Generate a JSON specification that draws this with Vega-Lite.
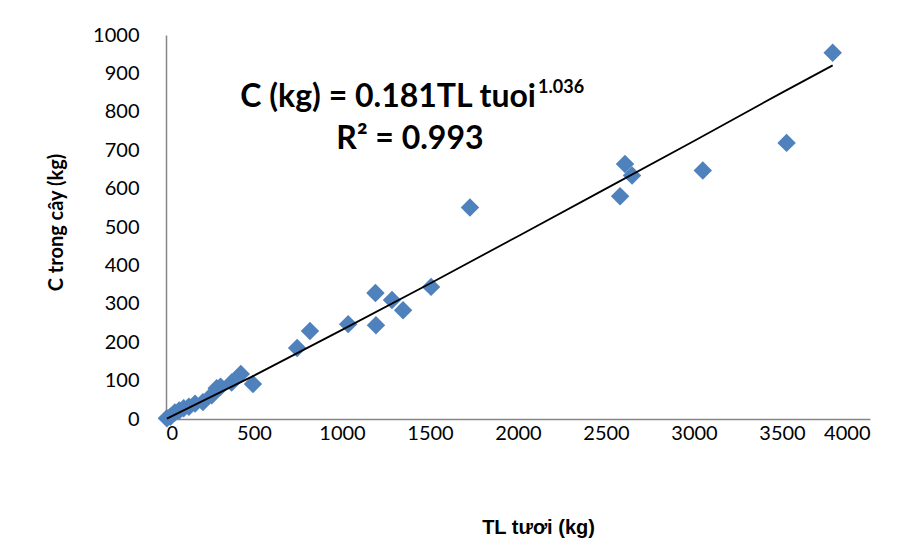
{
  "$schema": "https://vega.github.io/schema/vega-lite/v6.json",
  "width": 704,
  "height": 384,
  "autosize": {"type": "none"},
  "padding": {"left": 166, "top": 35, "right": 43, "bottom": 130},
  "background": "white",
  "config": {"view": {"stroke": null}, "font": "Lato", "axis": {"labelOverlap": false}},
  "datasets": {
    "pts": [
      {"tl": 5, "c": 2}, {"tl": 25, "c": 6}, {"tl": 50, "c": 17}, {"tl": 75, "c": 22},
      {"tl": 100, "c": 28}, {"tl": 130, "c": 32}, {"tl": 165, "c": 40}, {"tl": 210, "c": 44},
      {"tl": 260, "c": 62}, {"tl": 288, "c": 80}, {"tl": 310, "c": 84}, {"tl": 373, "c": 95},
      {"tl": 425, "c": 117}, {"tl": 494, "c": 91}, {"tl": 745, "c": 185}, {"tl": 818, "c": 229},
      {"tl": 1035, "c": 247}, {"tl": 1190, "c": 328}, {"tl": 1193, "c": 244}, {"tl": 1284, "c": 310},
      {"tl": 1347, "c": 283}, {"tl": 1506, "c": 344}, {"tl": 1727, "c": 551}, {"tl": 2580, "c": 580},
      {"tl": 2608, "c": 664}, {"tl": 2648, "c": 634}, {"tl": 3050, "c": 647}, {"tl": 3526, "c": 719},
      {"tl": 3788, "c": 954}
    ],
    "trend": [
      {"tl": 5, "c": 1}, {"tl": 500, "c": 113}, {"tl": 1000, "c": 232}, {"tl": 1500, "c": 353},
      {"tl": 2000, "c": 476}, {"tl": 2500, "c": 600}, {"tl": 3000, "c": 724}, {"tl": 3500, "c": 850},
      {"tl": 3788, "c": 921}
    ],
    "notes": [
      {"tl": 2102, "c": 839, "label": "C (kg) = 0.181TL tuoi", "kind": "main"},
      {"tl": 2114, "c": 862, "label": "1.036", "kind": "sup"},
      {"tl": 1386, "c": 729, "label": "R² = 0.993", "kind": "r2"}
    ]
  },
  "encoding": {
    "x": {
      "field": "tl", "type": "quantitative",
      "scale": {"domain": [0, 4000], "nice": false, "zero": true},
      "axis": {
        "values": [0, 500, 1000, 1500, 2000, 2500, 3000, 3500, 4000], "format": "d", "labelOverlap": false,
        "grid": false, "ticks": false, "domainColor": "#868686", "domainWidth": 1.5,
        "labelFont": "Lato", "labelFontSize": 20, "labelColor": "#000", "labelPadding": 4,
        "title": "TL tươi (kg)", "titleFont": "Liberation Sans", "titleFontSize": 20,
        "titleFontWeight": "bold", "titleColor": "#000", "titleX": 372, "titleY": 108,
        "titleBaseline": "middle", "titleAnchor": "middle"
      }
    },
    "y": {
      "field": "c", "type": "quantitative",
      "scale": {"domain": [0, 1000], "nice": false},
      "axis": {
        "values": [0, 100, 200, 300, 400, 500, 600, 700, 800, 900, 1000], "format": "d", "labelOverlap": false,
        "grid": false, "ticks": false, "domainColor": "#868686", "domainWidth": 1.5,
        "labelFont": "Lato", "labelFontSize": 20, "labelColor": "#000", "labelPadding": 27,
        "title": "C trong cây (kg)", "titleFont": "Lato", "titleFontSize": 20,
        "titleFontWeight": "bold", "titleColor": "#000", "titlePadding": 26, "titleY": 187
      }
    }
  },
  "layer": [
    {
      "data": {"name": "pts"},
      "mark": {"type": "point", "shape": "diamond", "filled": true, "size": 340, "color": "#4F81BD", "opacity": 1}
    },
    {
      "data": {"name": "trend"},
      "mark": {"type": "line", "color": "#000", "strokeWidth": 1.8}
    },
    {
      "data": {"name": "notes"},
      "transform": [{"filter": "datum.kind == 'main'"}],
      "mark": {"type": "text", "align": "right", "baseline": "middle", "font": "Lato", "fontWeight": "bold", "fontSize": 32, "color": "#000"},
      "encoding": {"text": {"field": "label"}}
    },
    {
      "data": {"name": "notes"},
      "transform": [{"filter": "datum.kind == 'sup'"}],
      "mark": {"type": "text", "align": "left", "baseline": "middle", "font": "Lato", "fontWeight": "bold", "fontSize": 18, "color": "#000"},
      "encoding": {"text": {"field": "label"}}
    },
    {
      "data": {"name": "notes"},
      "transform": [{"filter": "datum.kind == 'r2'"}],
      "mark": {"type": "text", "align": "center", "baseline": "middle", "font": "Lato", "fontWeight": "bold", "fontSize": 32, "color": "#000"},
      "encoding": {"text": {"field": "label"}}
    }
  ]
}
